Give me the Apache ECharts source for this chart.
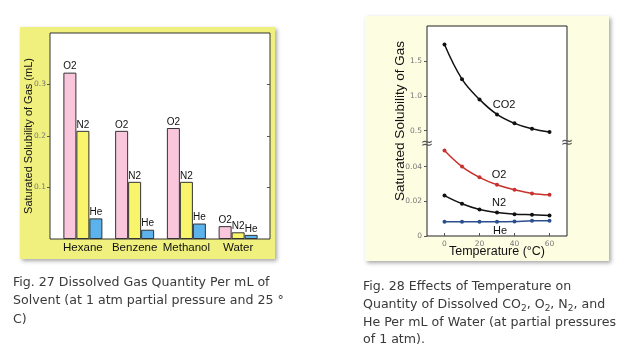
<!DOCTYPE html>
<html><head><meta charset="utf-8">
<script src="https://cdn.jsdelivr.net/npm/echarts@6/dist/echarts.min.js"></script>
<style>html,body{margin:0;padding:0;background:#fff;}#c{width:632px;height:357px;}</style>
</head><body><div id="c"></div>
<script>
// ---- Fig. 27 data ----
const solvents = ['Hexane', 'Benzene', 'Methanol', 'Water'];
const o2Solvent = [0.323, 0.210, 0.2155, 0.025];
const n2Solvent = [0.210, 0.111, 0.111, 0.013];
const heSolvent = [0.040, 0.018, 0.030, 0.008];
const ticks27 = [0.1, 0.2, 0.3];

// ---- Fig. 28 data ----
const temps = [0, 10, 20, 30, 40, 50, 60];
const co2Water = [1.734, 1.239, 0.949, 0.734, 0.606, 0.529, 0.481];
const o2Water = [0.0493, 0.0400, 0.0338, 0.0295, 0.0266, 0.0245, 0.0237];
const n2Water = [0.0233, 0.0186, 0.0153, 0.0135, 0.0126, 0.0122, 0.0118];
const heWater = [0.0082, 0.0082, 0.0082, 0.0082, 0.0083, 0.0088, 0.0088];
const tempTicks = [0, 20, 40, 60];
const upperTicks = [0.5, 1.0, 1.5];
const lowerTicks = [0, 0.02, 0.04];

// ---- captions ----
const caption27 = ['Fig. 27 Dissolved Gas Quantity Per mL of', 'Solvent (at 1 atm partial pressure and 25 °', 'C)'];
const caption28 = ['Fig. 28 Effects of Temperature on', 'Quantity of Dissolved CO{s|2}, O{s|2}, N{s|2}, and', 'He Per mL of Water (at partial pressures', 'of 1 atm).'];

const chart = echarts.init(document.getElementById('c'), null, {renderer: 'canvas'});
const AX = 'Liberation Sans, Arial, sans-serif';
const tickLbl = {fontSize: 7.5, color: '#777', fontFamily: 'DejaVu Sans, sans-serif'};

function barSeries(name, data, color) {
  return {
    type: 'bar', name: name, xAxisIndex: 1, yAxisIndex: 2, data: data,
    barWidth: 13, barGap: '0%',
    itemStyle: {color: color, borderColor: '#333', borderWidth: 1},
    label: {show: true, position: 'top', distance: 1, formatter: name, fontSize: 10, color: '#111', fontFamily: AX}
  };
}
function lineSeries(name, values, xi, yi, color, labelPos, labelOffset) {
  return {
    type: 'line', name: name, xAxisIndex: xi, yAxisIndex: yi, smooth: 0.4,
    symbol: 'circle', symbolSize: 4, showSymbol: true,
    itemStyle: {color: color}, lineStyle: {color: color, width: 1.5},
    data: temps.map((t, i) => {
      const d = {value: [t, values[i]]};
      if (i === 3) d.label = {show: true, position: labelPos, offset: labelOffset, distance: 2,
        formatter: name, fontSize: 11, color: '#111', fontFamily: AX};
      return d;
    })
  };
}

chart.setOption({
  animation: false,
  grid: [
    {left: 50, top: 33, width: 220, height: 206, show: true, borderColor: '#333', borderWidth: 1, backgroundColor: '#fff'},
    {left: 57, top: 33, width: 207, height: 206},
    {left: 427, top: 26, width: 140, height: 210, show: true, borderColor: '#222', borderWidth: 1, backgroundColor: '#fff'},
    {left: 427, top: 26, width: 140, height: 118},
    {left: 427, top: 144, width: 140, height: 92}
  ],
  xAxis: [
    {gridIndex: 0, type: 'value', min: 0, max: 1, show: false},
    {gridIndex: 1, type: 'category', data: solvents, axisLine: {show: false}, axisTick: {show: false},
      axisLabel: {interval: 0, fontSize: 11.5, color: '#111', fontFamily: AX, margin: 3}},
    {gridIndex: 2, type: 'value', min: 0, max: 1, show: false},
    {gridIndex: 3, type: 'value', min: -10, max: 70, show: false},
    {gridIndex: 4, type: 'value', min: -10, max: 70, axisLine: {show: false, onZero: false}, splitLine: {show: false},
      axisTick: {show: true, inside: true, length: 3, customValues: tempTicks, lineStyle: {color: '#555'}},
      axisLabel: {customValues: tempTicks, margin: 4, ...tickLbl},
      name: 'Temperature (°C)', nameLocation: 'middle', nameGap: 9, nameMoveOverlap: false,
      nameTextStyle: {fontSize: 12.5, color: '#111', fontFamily: AX}}
  ],
  yAxis: [
    {gridIndex: 0, type: 'value', min: 0, max: 0.4, position: 'left', axisLine: {show: false, onZero: false}, splitLine: {show: false},
      axisTick: {show: true, length: 3, customValues: ticks27, lineStyle: {color: '#555'}},
      axisLabel: {customValues: ticks27, formatter: v => v.toFixed(1), margin: 4, ...tickLbl},
      name: 'Saturated Solubility of Gas (mL)', nameLocation: 'middle', nameGap: 16, nameMoveOverlap: false,
      nameTextStyle: {fontSize: 11, color: '#111', fontFamily: AX}},
    {gridIndex: 0, type: 'value', min: 0, max: 0.4, position: 'right', axisLine: {show: false, onZero: false}, splitLine: {show: false},
      axisTick: {show: true, inside: true, length: 3, customValues: ticks27, lineStyle: {color: '#555'}},
      axisLabel: {show: false}},
    {gridIndex: 1, type: 'value', min: 0, max: 0.4, show: false},
    {gridIndex: 2, type: 'value', min: 0, max: 1, show: false},
    {gridIndex: 3, type: 'value', min: 0.31, max: 2.0, axisLine: {show: false, onZero: false}, splitLine: {show: false},
      axisTick: {show: true, length: 3, customValues: upperTicks, lineStyle: {color: '#555'}},
      axisLabel: {customValues: upperTicks, formatter: v => v.toFixed(1), margin: 5, ...tickLbl}},
    {gridIndex: 4, type: 'value', min: 0, max: 0.053, axisLine: {show: false, onZero: false}, splitLine: {show: false},
      axisTick: {show: true, length: 3, customValues: lowerTicks, lineStyle: {color: '#555'}},
      axisLabel: {customValues: lowerTicks, formatter: v => (v === 0 ? '0' : v.toFixed(2)), margin: 5, ...tickLbl}}
  ],
  series: [
    barSeries('O2', o2Solvent, '#f9c6dc'),
    barSeries('N2', n2Solvent, '#f8f46c'),
    barSeries('He', heSolvent, '#5cb2ea'),
    lineSeries('CO2', co2Water, 3, 4, '#111', 'top', [7, 0]),
    lineSeries('O2', o2Water, 4, 5, '#c8322e', 'top', [2, 0]),
    lineSeries('N2', n2Water, 4, 5, '#111', 'top', [2, 0]),
    lineSeries('He', heWater, 4, 5, '#2b4f8e', 'bottom', [3, 0])
  ],
  graphic: [
    {type: 'rect', z: -10, shape: {x: 20, y: 27, width: 255, height: 232},
      style: {fill: '#f0f07e', shadowBlur: 4, shadowOffsetX: 2, shadowOffsetY: 2, shadowColor: 'rgba(0,0,0,0.35)'}},
    {type: 'rect', z: -10, shape: {x: 365, y: 16, width: 244, height: 245},
      style: {fill: '#fdfde2', shadowBlur: 4, shadowOffsetX: 2, shadowOffsetY: 2, shadowColor: 'rgba(0,0,0,0.35)'}},
    {type: 'text', z: 10, x: 400, y: 121, rotation: Math.PI / 2,
      style: {text: 'Saturated Solubility of Gas', fontSize: 13.5, fill: '#111', fontFamily: AX, align: 'center', verticalAlign: 'middle'}},
    {type: 'text', z: 10, x: 427, y: 144,
      style: {text: '≈', fontSize: 15, fill: '#555', align: 'center', verticalAlign: 'middle', fontFamily: 'DejaVu Sans'}},
    {type: 'text', z: 10, x: 567, y: 143,
      style: {text: '≈', fontSize: 15, fill: '#555', align: 'center', verticalAlign: 'middle', fontFamily: 'DejaVu Sans'}},
    {type: 'text', z: 10, x: 13, y: 273,
      style: {text: caption27.join('\n'), fontSize: 12.6, lineHeight: 18.5, fill: '#3a3a3a', fontFamily: 'DejaVu Sans'}},
    {type: 'text', z: 10, x: 363, y: 278,
      style: {text: caption28.join('\n'), fontSize: 12.6, lineHeight: 17.7, fill: '#3a3a3a', fontFamily: 'DejaVu Sans',
        rich: {s: {fontSize: 9, lineHeight: 14, verticalAlign: 'bottom', fill: '#3a3a3a', fontFamily: 'DejaVu Sans'}}}}
  ]
});
</script></body></html>
